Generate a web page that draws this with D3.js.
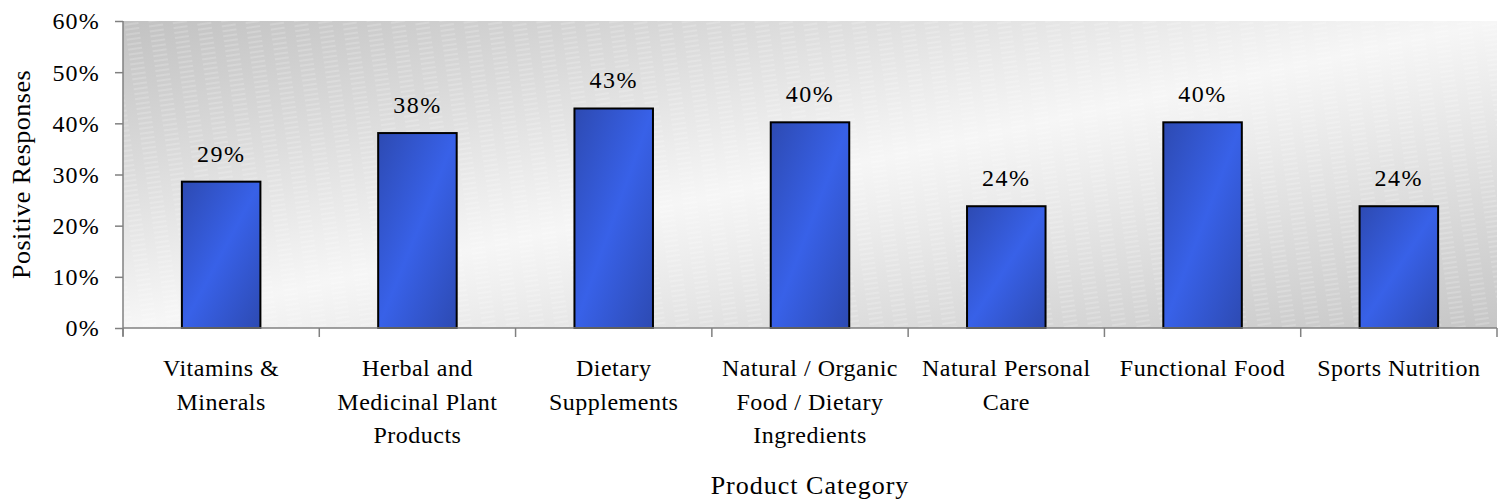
<!DOCTYPE html>
<html>
<head>
<meta charset="utf-8">
<script src="https://cdn.jsdelivr.net/npm/d3@7"></script>
<style>
  body { margin: 0; background: #fff; }
  text { font-family: "Liberation Serif", "Times New Roman", serif; fill: #000; }
</style>
</head>
<body>
<script>
const w = 1500,
  h = 503;
const margin = { top: 21, right: 3, bottom: 175, left: 123 };

// data
const categories = [
  ['Vitamins &', 'Minerals'],
  ['Herbal and', 'Medicinal Plant', 'Products'],
  ['Dietary', 'Supplements'],
  ['Natural / Organic', 'Food / Dietary', 'Ingredients'],
  ['Natural Personal', 'Care'],
  ['Functional Food'],
  ['Sports Nutrition']
];
const values = [0.286, 0.381, 0.429, 0.402, 0.238, 0.402, 0.238];
const yTicks = [0, 0.1, 0.2, 0.3, 0.4, 0.5, 0.6];

const svg = d3.select('body').append('svg').attr('width', w).attr('height', h);
const defs = svg.append('defs');

// plot background gradient
const bg = defs.append('linearGradient').attr('id', 'bg')
  .attr('x1', 0).attr('y1', 0).attr('x2', 1).attr('y2', 1);
bg.append('stop').attr('offset', 0).attr('stop-color', '#c2c2c2');
bg.append('stop').attr('offset', 0.5).attr('stop-color', '#f6f6f6');
bg.append('stop').attr('offset', 1).attr('stop-color', '#c6c6c6');

// bar gradient
const bar = defs.append('linearGradient').attr('id', 'bar')
  .attr('x1', 0).attr('y1', 0).attr('x2', 1).attr('y2', 1);
bar.append('stop').attr('offset', 0).attr('stop-color', '#2d4ab2');
bar.append('stop').attr('offset', 0.5).attr('stop-color', '#3861e8');
bar.append('stop').attr('offset', 1).attr('stop-color', '#2d4ab2');

// faint diagonal dashes
const pat = defs.append('pattern').attr('id', 'dash')
  .attr('patternUnits', 'userSpaceOnUse')
  .attr('width', 24).attr('height', 5)
  .attr('patternTransform', 'rotate(-8)');
pat.append('line').attr('x1', 0).attr('y1', 2).attr('x2', 14).attr('y2', 2)
  .attr('stroke', '#fff').attr('stroke-width', 1).attr('stroke-opacity', 0.35);

const x = d3.scaleBand()
  .domain(d3.range(values.length))
  .range([margin.left, w - margin.right])
  .paddingInner(0.6).paddingOuter(0.3);

const xOuter = d3.scaleBand()
  .domain(d3.range(values.length))
  .range([margin.left, w - margin.right]);

const y = d3.scaleLinear().domain([0, 0.6]).range([h - margin.bottom, margin.top]);

const pw = w - margin.right - margin.left;
const ph = h - margin.bottom - margin.top;

svg.append('rect').attr('x', margin.left).attr('y', margin.top)
  .attr('width', pw).attr('height', ph).attr('fill', 'url(#bg)');
svg.append('rect').attr('x', margin.left).attr('y', margin.top)
  .attr('width', pw).attr('height', ph).attr('fill', 'url(#dash)');

// y axis
const yAxis = d3.axisLeft(y).tickValues(yTicks).tickFormat(d3.format('.0%'))
  .tickSize(8).tickPadding(15);
const gy = svg.append('g').attr('transform', `translate(${margin.left},0)`).call(yAxis);
gy.select('.domain').remove();
gy.selectAll('.tick line').attr('stroke', '#808080').attr('stroke-width', 1.5);
gy.selectAll('text')
  .style('font-size', '24px')
  .style('letter-spacing', '1.2px')
  .attr('font-family', null)
  .attr('dy', '0.33em');
svg.append('line').attr('x1', margin.left).attr('x2', margin.left)
  .attr('y1', margin.top).attr('y2', y(0) + 8)
  .attr('stroke', '#808080').attr('stroke-width', 1.5);

// bars
svg.selectAll('rect.bar')
  .data(values)
  .enter()
  .append('rect')
  .attr('class', 'bar')
  .attr('x', (d, i) => x(i))
  .attr('y', d => y(d))
  .attr('width', x.bandwidth())
  .attr('height', d => y(0) - y(d))
  .attr('fill', 'url(#bar)')
  .attr('stroke', '#000')
  .attr('stroke-width', 2);

// value labels
svg.selectAll('text.val')
  .data(values)
  .enter()
  .append('text')
  .attr('class', 'val')
  .attr('x', (d, i) => x(i) + x.bandwidth() / 2)
  .attr('y', d => y(d) - 20)
  .attr('text-anchor', 'middle')
  .style('font-size', '24px')
  .style('letter-spacing', '1.5px')
  .text(d => d3.format('.0%')(d));

// x axis
svg.append('line').attr('x1', margin.left).attr('x2', w - margin.right)
  .attr('y1', y(0)).attr('y2', y(0))
  .attr('stroke', '#808080').attr('stroke-width', 1.5);
svg.selectAll('line.xt')
  .data(d3.range(values.length + 1))
  .enter()
  .append('line')
  .attr('class', 'xt')
  .attr('x1', i => margin.left + i * xOuter.step())
  .attr('x2', i => margin.left + i * xOuter.step())
  .attr('y1', y(0)).attr('y2', y(0) + 9)
  .attr('stroke', '#808080').attr('stroke-width', 1.5);

const cl = svg.selectAll('text.cat')
  .data(categories)
  .enter()
  .append('text')
  .attr('class', 'cat')
  .attr('text-anchor', 'middle')
  .style('font-size', '24px')
  .style('letter-spacing', '0.5px');
cl.selectAll('tspan')
  .data((d, i) => d.map(t => ({ t, i })))
  .enter()
  .append('tspan')
  .attr('x', d => xOuter(d.i) + xOuter.bandwidth() / 2)
  .attr('y', (d, j) => 376 + j * 33.5)
  .text(d => d.t);

// axis titles
svg.append('text')
  .attr('x', margin.left + pw / 2)
  .attr('y', 494)
  .attr('text-anchor', 'middle')
  .style('font-size', '26px')
  .style('letter-spacing', '1px')
  .text('Product Category');

svg.append('text')
  .attr('transform', `translate(30,${margin.top + ph / 2}) rotate(-90)`)
  .attr('text-anchor', 'middle')
  .style('font-size', '26px')
  .style('letter-spacing', '0.5px')
  .text('Positive Responses');
</script>
</body>
</html>
